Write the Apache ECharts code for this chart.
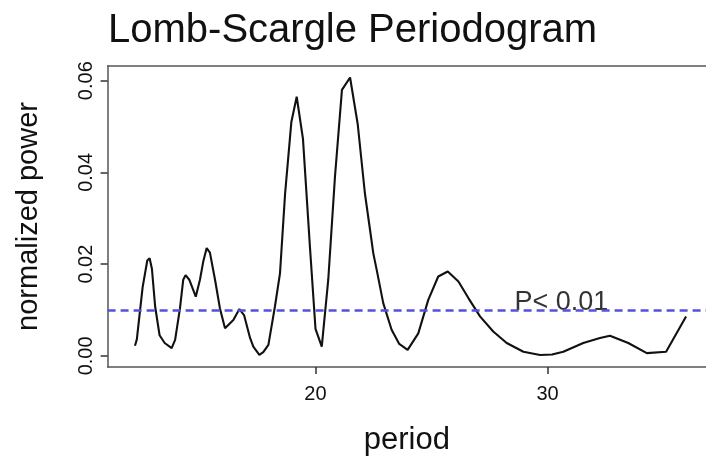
<!DOCTYPE html>
<html>
<head>
<meta charset="utf-8">
<script src="https://cdn.jsdelivr.net/npm/echarts@6/dist/echarts.min.js"></script>
<style>html,body{margin:0;padding:0;background:#fff;}#c{width:706px;height:461px;}</style>
</head>
<body>
<div id="c"></div>
<script>
const titleText = "Lomb-Scargle Periodogram";
const xName = "period";
const yName = "normalized power";
const period = [12.22,12.30,12.55,12.75,12.85,12.95,13.09,13.28,13.50,13.80,13.95,14.16,14.30,14.40,14.56,14.84,15.02,15.16,15.31,15.45,15.67,15.88,16.10,16.17,16.46,16.72,16.92,17.18,17.32,17.58,17.75,17.97,18.25,18.47,18.69,18.96,19.19,19.46,19.76,20.00,20.27,20.55,20.84,21.14,21.49,21.82,22.13,22.35,22.49,22.64,22.92,23.28,23.61,23.97,24.43,24.86,25.29,25.70,26.16,26.59,27.09,27.66,28.24,28.96,29.68,30.20,30.68,31.54,32.26,32.69,33.48,34.28,35.11,35.97];
const power = [0.0022,0.0036,0.0150,0.0208,0.0213,0.0190,0.0107,0.0045,0.0028,0.0017,0.0035,0.0104,0.0166,0.0176,0.0166,0.0129,0.0166,0.0205,0.0235,0.0225,0.0166,0.0104,0.0060,0.0057,0.0078,0.0102,0.0089,0.0039,0.0020,0.0002,0.0008,0.0024,0.0107,0.0180,0.0354,0.0510,0.0565,0.0473,0.0238,0.0059,0.0020,0.0166,0.0391,0.0580,0.0607,0.0505,0.0354,0.0275,0.0224,0.0187,0.0115,0.0057,0.0026,0.0013,0.0049,0.0122,0.0173,0.0184,0.0162,0.0126,0.0086,0.0053,0.0028,0.0009,0.0002,0.0003,0.0009,0.0028,0.0039,0.0044,0.0028,0.0006,0.0009,0.0086];
const xTicks = [20, 30];
const yTicks = [0, 0.02, 0.04, 0.06];
const sigLevel = 0.0106;
const sigLabel = "P< 0.01";
const sigLabelX = 30.6;

const chart = echarts.init(document.getElementById('c'), null, {renderer: 'canvas'});
const ff = '"Liberation Sans", Arial, Helvetica, sans-serif';
const frame = {show: true, onZero: false, lineStyle: {color: '#555', width: 1.5}};
chart.setOption({
  animation: false,
  backgroundColor: '#fff',
  title: {
    text: titleText, left: 103, top: 6,
    textStyle: {fontFamily: ff, fontSize: 40, fontWeight: 'normal', color: '#111'}
  },
  grid: {left: 107.6, right: 0, top: 66, bottom: 93, show: false},
  xAxis: [{
    type: 'value', min: 11.04, max: 36.83, position: 'bottom',
    name: xName, nameLocation: 'middle', nameGap: 58,
    nameTextStyle: {fontFamily: ff, fontSize: 31, color: '#111'},
    axisLine: frame,
    splitLine: {show: false},
    axisTick: {show: true, customValues: xTicks, length: 7, lineStyle: {color: '#333', width: 1.5}},
    axisLabel: {customValues: xTicks, margin: 17, fontFamily: ff, fontSize: 20, color: '#111'}
  }, {
    type: 'value', min: 11.04, max: 36.83, position: 'top',
    axisLine: frame, axisTick: {show: false}, axisLabel: {show: false}, splitLine: {show: false}
  }],
  yAxis: {
    type: 'value', min: -0.00243, max: 0.0632,
    name: yName, nameLocation: 'middle', nameGap: 64,
    nameTextStyle: {fontFamily: ff, fontSize: 29, color: '#111'},
    axisLine: frame,
    splitLine: {show: false},
    axisTick: {show: true, customValues: yTicks, length: 7, lineStyle: {color: '#333', width: 1.5}},
    axisLabel: {customValues: yTicks, rotate: 90, margin: 11, fontFamily: ff, fontSize: 20, color: '#111',
      formatter: v => v.toFixed(2)}
  },
  series: [
    {
      type: 'line', data: period.map((p, i) => [p, power[i]]),
      showSymbol: false, smooth: false,
      lineStyle: {color: '#111', width: 2.1},
      markLine: {
        silent: true, symbol: 'none', label: {show: false},
        lineStyle: {color: '#5252e0', type: [8, 5], width: 2.5},
        data: [{yAxis: sigLevel}]
      }
    },
    {
      type: 'scatter', data: [[sigLabelX, sigLevel]], symbolSize: 0, silent: true,
      label: {show: true, position: 'top', distance: -9, formatter: sigLabel,
        fontFamily: ff, fontSize: 27, color: '#000'}
    }
  ]
});
</script>
</body>
</html>
